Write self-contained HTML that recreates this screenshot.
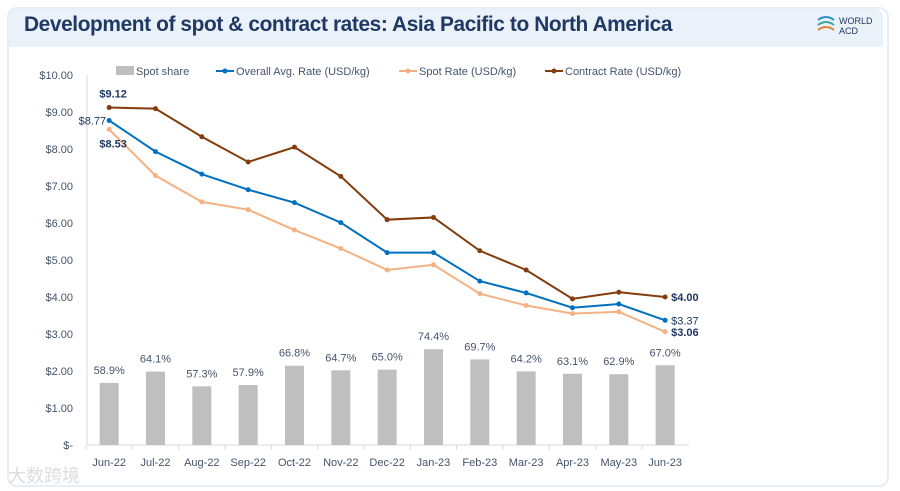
<!DOCTYPE html>
<html><head><meta charset="utf-8"><style>
body{margin:0;width:900px;height:491px;background:#fff;overflow:hidden;font-family:"Liberation Sans",sans-serif}
#card{position:absolute;left:7px;top:7px;width:878px;height:476px;border:2px solid #e6eef6;border-radius:10px;background:#fff}
#hdr{position:absolute;left:9px;top:9px;width:874px;height:38px;background:#eaf1f8;border-radius:8px 8px 0 0}
#title{position:absolute;left:24px;top:12px;font-size:21.5px;font-weight:bold;color:#1f3864;letter-spacing:-0.4px;transform:scaleX(0.97);transform-origin:0 0;white-space:nowrap}
#logo{position:absolute;left:815px;top:14px;font-size:9px;color:#1f3864;line-height:10px}
</style></head><body>
<div id="card"></div>
<div id="hdr"></div>
<div id="title">Development of spot &amp; contract rates: Asia Pacific to North America</div>
<div id="logo"><svg width="22" height="22" style="position:absolute;left:0;top:0"><path d="M3 6 Q11 0 19 6" stroke="#2a8fc9" fill="none" stroke-width="2"/><path d="M3 11 Q11 5 19 11" stroke="#3aa3a0" fill="none" stroke-width="2"/><path d="M3 16 Q11 10 19 16" stroke="#e57f3a" fill="none" stroke-width="2"/></svg><div style="position:absolute;left:24px;top:2px">WORLD<br>ACD</div></div>
<svg id="chart" width="900" height="491" style="position:absolute;left:0;top:0"></svg>
<div style="position:absolute;left:8px;top:462px;font-size:18px;color:#ddd;font-family:'Noto Sans CJK SC',sans-serif">大数跨境</div>
<script>
const categories=["Jun-22","Jul-22","Aug-22","Sep-22","Oct-22","Nov-22","Dec-22","Jan-23","Feb-23","Mar-23","Apr-23","May-23","Jun-23"];
const spotShare=[58.9,64.1,57.3,57.9,66.8,64.7,65.0,74.4,69.7,64.2,63.1,62.9,67.0];
const overall=[8.77,7.93,7.32,6.90,6.55,6.01,5.20,5.20,4.43,4.11,3.71,3.81,3.37];
const spot=[8.53,7.28,6.57,6.36,5.81,5.31,4.73,4.87,4.09,3.77,3.55,3.60,3.06];
const contract=[9.12,9.09,8.33,7.65,8.05,7.26,6.09,6.15,5.25,4.73,3.95,4.13,4.00];
const yTicks=[0,1,2,3,4,5,6,7,8,9,10];
const svg=document.getElementById('chart');const NS='http://www.w3.org/2000/svg';
const x0=86,bw=46.33,y0=445,pxPerD=37;
const xs=i=>x0+bw*(i+0.5);
const ys=v=>y0-v*pxPerD;
const barY=s=>ys((s-30.3)*0.0587);
function mk(t,a,p){const e=document.createElementNS(NS,t);for(const k in a)e.setAttribute(k,a[k]);(p||svg).appendChild(e);return e;}
const g=mk('g',{});


yTicks.forEach(v=>{const t=mk('text',{x:73,y:ys(v)+4,'text-anchor':'end','font-size':11,fill:'#44546a'},g);t.textContent=v===0?'$-':'$'+v.toFixed(2);});
mk('line',{x1:87,y1:75,x2:87,y2:445,stroke:'#d9d9d9'});
const ax=mk('line',{x1:87,y1:445,x2:689,y2:445,stroke:'#d9d9d9'});


categories.forEach((c,i)=>{
 mk('line',{x1:x0+bw*i,y1:445,x2:x0+bw*i,y2:450,stroke:'#d9d9d9'});
 const t=mk('text',{x:xs(i),y:466,'text-anchor':'middle','font-size':11,fill:'#44546a'});t.textContent=c;
 
 
 const by=barY(spotShare[i]);
 const r=mk('rect',{x:xs(i)-9.5,y:by,width:19,height:y0-by,fill:'#bfbfbf'});
 
 
 const l=mk('text',{x:xs(i),y:by-9,'text-anchor':'middle','font-size':11,fill:'#44546a'});l.textContent=spotShare[i].toFixed(1)+'%';
 
 
});
function series(vals,col,name){
 const p=mk('polyline',{points:vals.map((v,i)=>xs(i)+','+ys(v)).join(' '),fill:'none',stroke:col,'stroke-width':2});
 
 
 vals.forEach((v,i)=>{const c=mk('circle',{cx:xs(i),cy:ys(v),r:2.5,fill:col});
 
 });
}
series(contract,'#843c0c','contract-rate');
series(spot,'#f4b183','spot-rate');
series(overall,'#0070c0','overall-rate');
function lab(x,y,txt,b,anchor){const t=mk('text',{x:x,y:y,'font-size':11,fill:'#1f3864','font-weight':b?'bold':'normal','text-anchor':anchor||'start'});t.textContent=txt;

}
const L=categories.length-1;
lab(xs(0)+4,ys(contract[0])-10,'$'+contract[0].toFixed(2),true,'middle');
lab(xs(0)-3,ys(overall[0])+4,'$'+overall[0].toFixed(2),false,'end');
lab(xs(0)+4,ys(spot[0])+18,'$'+spot[0].toFixed(2),true,'middle');
lab(xs(L)+6,ys(contract[L])+4,'$'+contract[L].toFixed(2),true);
lab(xs(L)+6,ys(overall[L])+4,'$'+overall[L].toFixed(2),false);
lab(xs(L)+6,ys(spot[L])+4,'$'+spot[L].toFixed(2),true);
const lg=mk('g',{});


mk('rect',{x:116,y:66,width:18,height:9,fill:'#bfbfbf'},lg);
[['Spot share',136],['Overall Avg. Rate (USD/kg)',236],['Spot Rate (USD/kg)',419],['Contract Rate (USD/kg)',565]].forEach(([t,x])=>{const e=mk('text',{x:x,y:75,'font-size':11,fill:'#44546a'},lg);e.textContent=t;});
[['#0070c0',216],['#f4b183',399],['#843c0c',545]].forEach(([c,x])=>{mk('line',{x1:x,y1:71,x2:x+18,y2:71,stroke:c,'stroke-width':2},lg);mk('circle',{cx:x+9,cy:71,r:2.5,fill:c},lg);});
</script>
</body></html>
